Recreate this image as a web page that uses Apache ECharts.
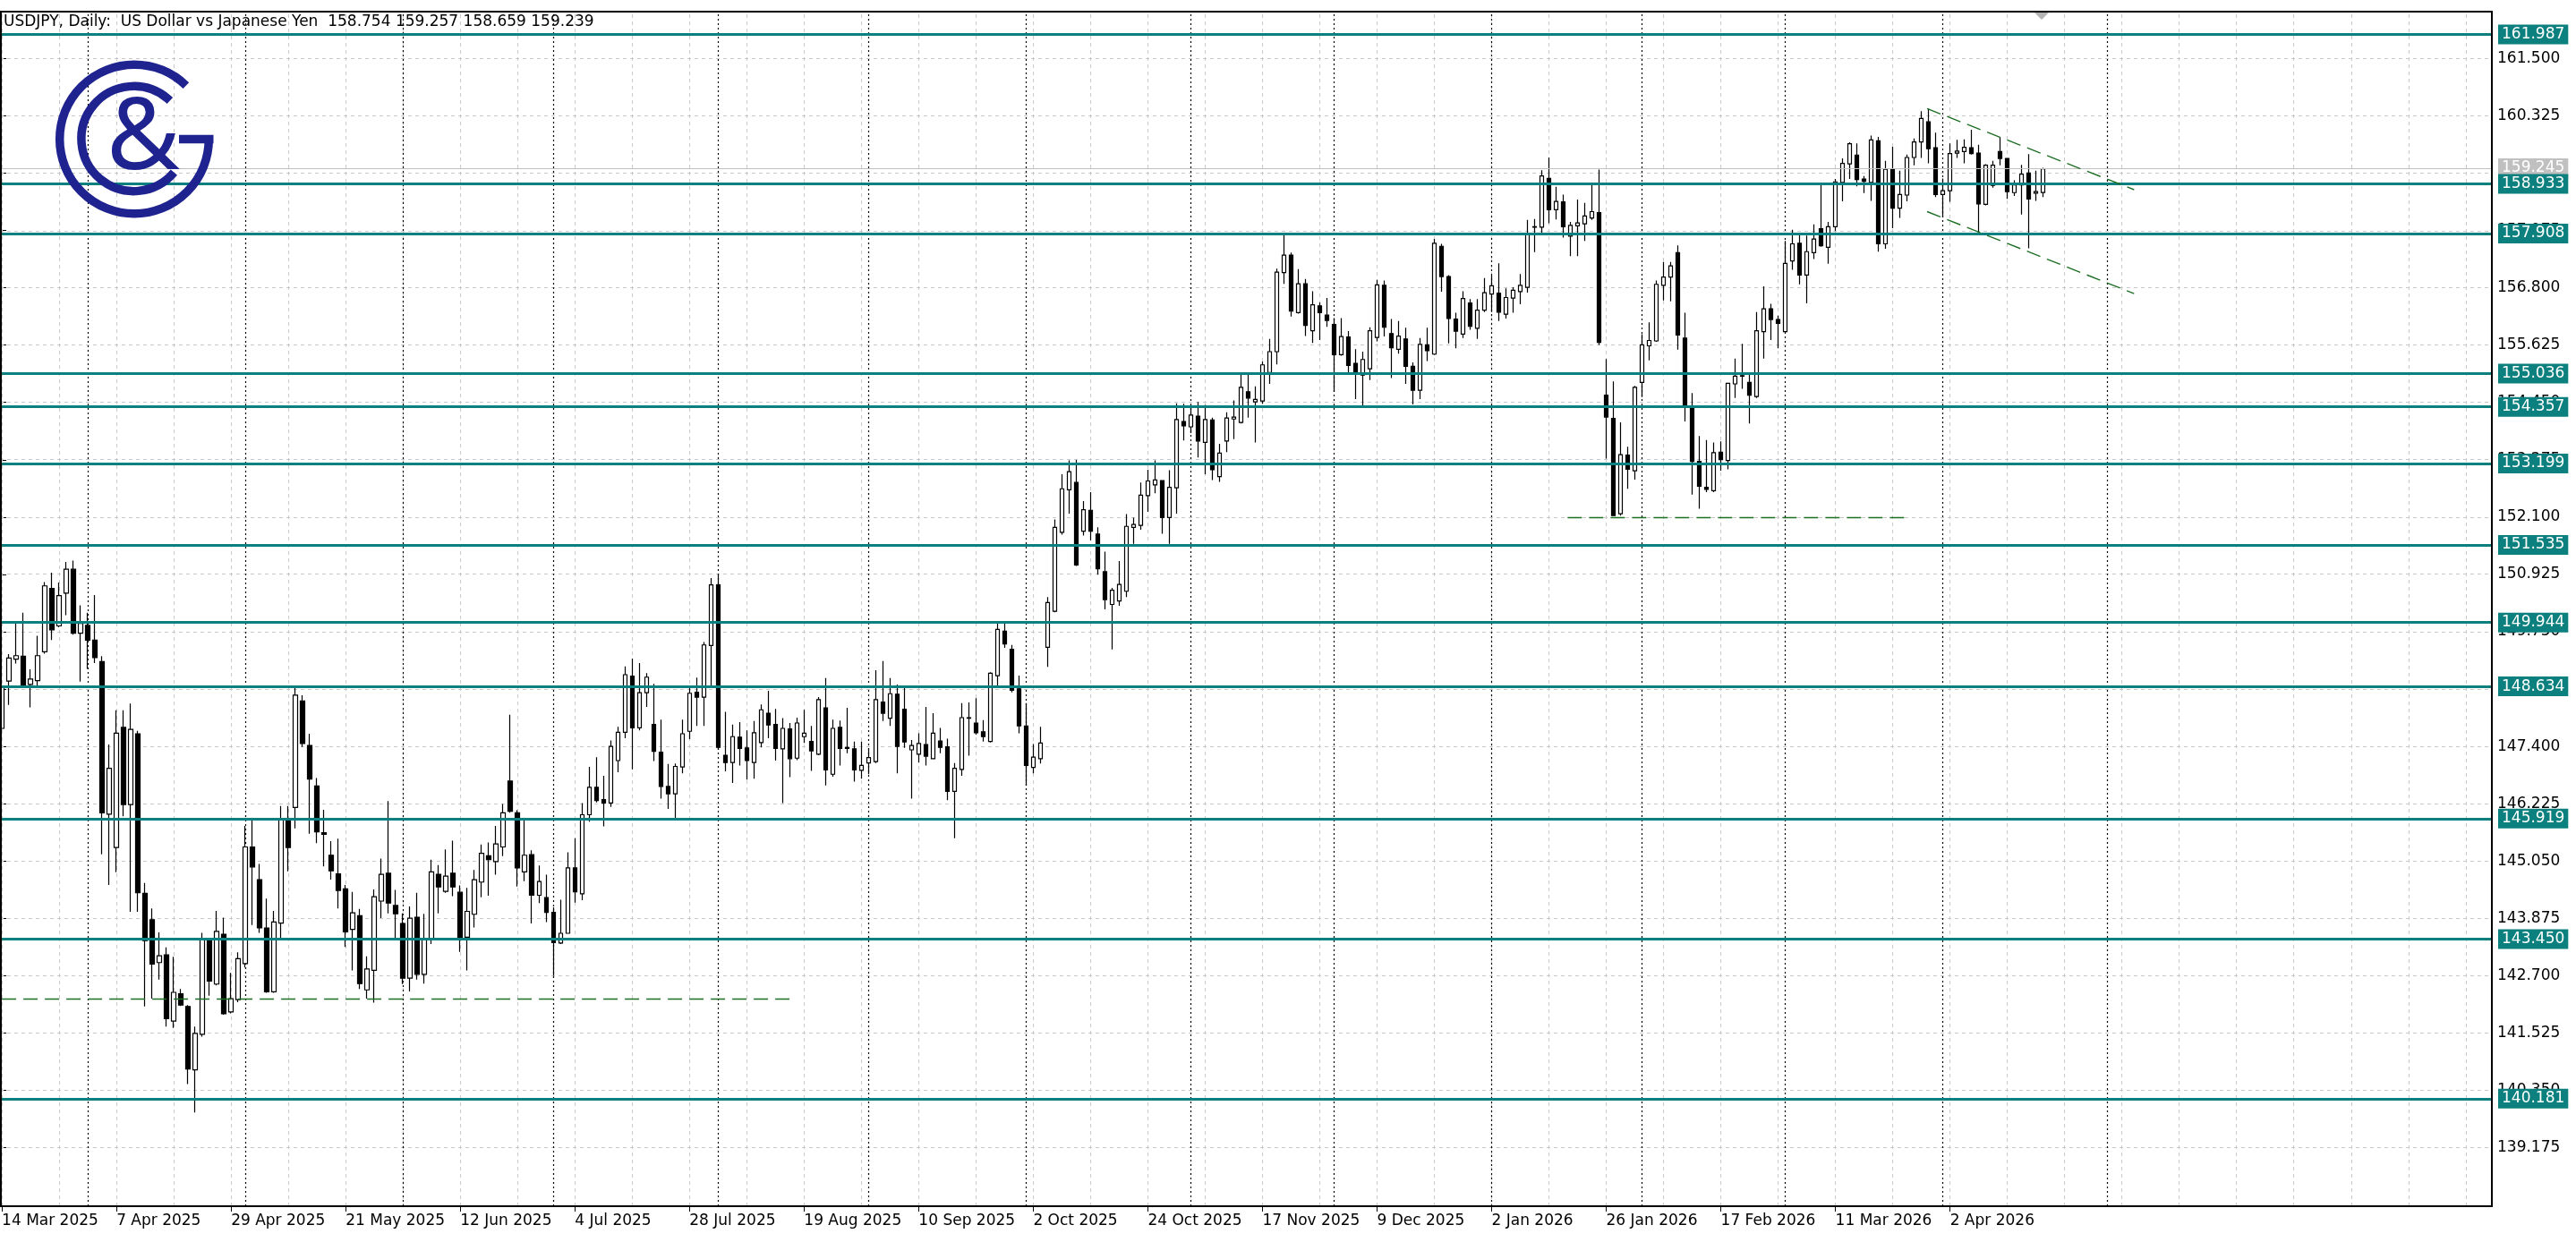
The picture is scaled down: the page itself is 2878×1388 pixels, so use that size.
<!DOCTYPE html>
<html><head><meta charset="utf-8">
<script src="https://cdn.jsdelivr.net/npm/echarts@6/dist/echarts.min.js"></script>
<style>html,body{margin:0;padding:0;background:#fff}#chart{width:2878px;height:1388px}</style>
</head><body><div id="chart"></div>
<script>
// ---- data (USDJPY daily, 14 Mar 2025 .. 21 Apr 2026) ----
const opens = [147.77,148.74,149.19,149.25,148.67,148.75,149.34,150.64,149.87,150.54,151.03,149.72,149.88,149.58,149.14,146.01,145.33,147.79,146.21,147.66,
144.39,143.85,142.97,143.13,141.77,142.33,142.07,140.77,141.50,143.44,142.53,143.55,141.96,142.21,142.95,145.34,144.67,143.68,142.37,143.78,
145.90,146.15,148.33,147.42,146.59,145.63,145.17,144.79,144.48,143.65,143.93,142.41,142.81,144.23,144.80,144.14,143.77,142.65,143.90,142.73,
143.46,144.78,144.43,144.80,144.41,143.49,143.96,144.62,145.16,145.04,145.34,146.69,146.04,144.83,145.18,144.35,144.30,144.00,143.37,143.57,
144.91,144.38,146.00,146.56,146.31,146.24,147.11,147.69,148.84,147.78,148.50,147.85,147.28,146.58,146.43,146.98,147.71,148.51,148.41,149.47,
150.71,147.22,147.07,147.59,147.37,147.07,147.48,148.08,147.85,147.35,147.76,147.16,147.60,147.50,147.24,148.19,146.83,147.79,147.38,147.35,
146.91,147.06,147.09,148.31,147.98,148.47,148.16,147.33,147.24,147.44,147.15,147.51,147.39,146.48,146.93,147.99,147.88,147.70,147.50,148.85,
149.76,149.39,148.58,147.82,146.97,147.15,149.43,150.17,151.79,152.66,152.81,151.81,152.24,151.75,150.98,150.31,150.38,150.58,151.89,151.93,
152.54,152.76,152.85,152.09,152.70,154.06,153.95,154.17,153.63,154.09,152.93,153.66,154.11,154.04,154.67,154.46,154.48,155.06,155.49,157.11,
157.47,156.29,156.88,155.92,156.43,156.24,156.05,155.43,155.79,155.25,155.01,155.14,155.78,156.85,155.86,155.54,155.75,155.19,154.70,155.63,
155.44,157.65,157.03,156.16,155.85,156.49,155.97,156.34,156.67,156.69,156.26,156.59,156.72,156.81,158.04,158.04,159.04,158.40,158.56,157.86,
158.07,158.11,158.23,158.34,154.60,154.12,152.17,153.37,153.05,154.86,155.61,155.71,156.85,157.02,157.52,155.77,154.38,153.24,152.71,152.64,
153.43,153.26,154.83,154.99,154.86,154.57,155.90,156.37,156.15,155.90,157.35,157.71,157.06,157.52,158.01,157.63,158.05,158.96,159.34,159.52,
159.03,158.96,159.81,157.70,159.24,158.43,158.70,159.47,159.79,160.20,159.67,158.71,158.79,159.56,159.59,159.67,159.56,158.51,158.90,159.59,
159.45,158.75,158.91,159.15,158.74,158.754];
const highs = [148.66,149.29,149.92,150.14,148.98,149.67,150.77,150.96,150.76,151.18,151.21,150.29,150.14,150.50,149.25,147.44,148.14,148.14,148.28,147.72,
144.60,144.08,143.59,143.28,143.09,142.43,142.10,141.66,143.58,143.45,144.03,143.89,142.76,143.18,145.77,145.92,144.99,144.28,144.03,146.18,
146.18,148.60,148.45,147.66,146.75,146.10,145.46,145.51,144.56,144.42,144.07,143.10,144.47,145.10,146.28,144.46,143.98,144.12,144.40,143.97,
145.08,144.97,145.29,145.47,144.55,144.50,144.87,145.39,145.43,145.77,146.22,148.05,146.09,145.92,145.27,144.96,144.77,144.10,144.26,145.23,
145.52,146.24,146.98,147.18,146.80,147.52,147.80,149.04,149.20,149.11,148.90,148.68,147.95,147.04,147.05,147.95,148.60,148.81,149.54,150.85,
150.93,148.11,147.85,147.90,147.73,147.92,148.26,148.54,148.17,147.98,147.88,147.99,148.15,147.82,148.41,148.80,147.95,147.93,148.19,147.50,
147.50,147.36,148.96,149.15,148.80,148.67,148.60,147.53,147.67,148.21,148.08,147.78,147.56,147.06,148.29,148.30,148.39,147.94,148.92,149.94,
149.94,149.48,148.85,148.29,147.45,147.80,150.46,152.05,152.98,153.26,153.27,152.43,152.61,151.89,151.39,150.65,151.20,152.16,152.09,152.81,
153.07,153.26,152.86,153.06,154.43,154.42,154.40,154.46,154.40,154.14,153.60,154.25,154.49,155.05,155.03,154.78,155.29,155.75,157.19,157.88,
157.52,157.18,156.98,156.73,156.50,156.59,156.18,156.18,155.91,155.54,155.49,155.99,156.96,156.95,156.16,156.12,155.98,155.27,155.77,155.98,
157.80,157.70,157.06,156.29,156.73,156.57,156.57,157.00,157.05,157.30,156.79,156.81,157.08,158.19,158.21,159.21,159.47,158.87,158.71,158.15,
158.61,158.54,158.92,159.22,155.34,154.88,154.04,153.54,154.79,155.85,156.09,156.95,157.33,157.33,157.67,156.29,154.64,153.76,153.68,153.63,
153.65,154.85,155.35,155.65,155.03,156.30,156.83,156.47,156.23,157.76,157.99,157.89,157.87,158.10,158.92,158.15,159.03,159.45,159.78,159.76,
159.09,159.92,159.89,159.40,159.69,159.20,159.53,159.86,160.42,160.47,159.98,159.04,159.76,159.83,159.84,160.04,159.73,159.33,159.40,159.89,
159.46,159.00,159.32,159.54,159.20,159.257];
const lows = [147.73,148.25,149.10,148.62,148.20,148.61,149.30,149.58,149.84,150.09,149.69,148.73,148.99,149.11,145.19,144.56,144.82,145.97,144.01,144.01,
142.07,142.23,142.62,141.66,141.63,142.08,140.48,139.90,141.45,142.29,142.50,141.90,141.93,142.16,142.87,143.74,143.58,142.35,142.35,143.45,
144.84,145.72,147.39,145.61,145.42,144.94,144.67,144.08,143.29,142.81,142.43,142.23,142.15,143.88,143.98,143.47,142.53,142.38,142.62,142.54,
143.35,143.98,144.40,144.33,143.19,142.81,143.69,144.31,144.34,144.77,145.15,146.04,144.53,144.64,143.77,144.19,143.80,142.70,143.35,143.56,
144.20,144.25,145.86,146.25,145.76,146.16,146.87,147.57,146.93,147.73,148.21,147.10,146.33,146.12,145.90,146.85,147.55,147.82,147.82,148.60,
147.33,146.89,146.65,147.01,146.72,146.74,147.38,147.57,147.11,146.24,146.77,147.12,147.47,146.90,147.22,146.60,146.78,147.01,147.26,146.68,
146.74,146.83,147.06,147.92,147.82,146.85,147.37,146.33,147.07,147.01,147.14,147.26,146.30,145.52,146.80,147.21,147.64,147.50,147.48,148.60,
149.42,148.51,147.67,146.60,146.85,147.05,149.03,150.15,151.74,152.17,151.10,151.72,151.62,150.92,150.21,149.39,150.28,150.46,151.55,151.84,
152.21,152.59,151.76,151.55,152.17,153.67,153.82,153.32,152.98,152.86,152.82,153.43,153.70,154.02,154.14,153.63,154.42,154.83,155.23,156.88,
156.21,156.27,155.81,155.67,155.73,156.00,154.67,155.41,155.07,154.52,154.38,154.91,155.70,155.80,154.95,155.45,154.83,154.41,154.52,155.30,
155.42,156.72,155.66,155.56,155.77,155.94,155.75,156.30,156.30,156.12,156.17,156.29,156.46,156.70,157.53,157.92,158.12,158.20,157.83,157.45,
157.45,157.76,158.19,155.63,153.30,152.12,152.13,152.68,152.87,154.56,155.31,155.69,156.54,156.52,155.53,154.06,152.56,152.27,152.61,152.61,
153.05,153.08,154.54,154.73,154.02,154.54,155.35,155.73,155.56,155.90,157.17,156.87,156.48,157.39,157.64,157.29,157.96,158.57,159.03,158.88,
158.74,158.58,157.54,157.60,158.02,158.23,158.57,159.31,159.46,159.35,158.66,158.24,158.56,159.46,159.35,159.53,157.92,158.49,158.85,159.31,
158.62,158.68,158.30,157.61,158.58,158.659];
const closes = [148.62,149.21,149.26,148.66,148.78,149.26,150.69,149.79,150.49,151.03,149.72,149.92,149.58,149.22,146.04,146.95,147.67,146.21,147.75,144.40,
143.42,142.94,143.11,141.82,142.36,142.10,140.79,141.52,143.44,142.59,143.61,141.92,142.23,143.05,145.34,144.93,143.68,142.37,143.80,145.90,
145.33,148.45,147.46,146.73,145.65,145.60,144.85,144.45,143.60,143.99,142.54,142.84,144.32,144.78,144.19,143.97,142.65,143.88,142.73,143.46,
144.83,144.52,144.74,144.52,143.47,144.02,144.67,145.21,145.08,145.40,146.04,146.07,144.91,145.17,144.35,144.63,144.00,143.38,143.57,144.91,
144.42,146.00,146.56,146.29,146.24,147.40,147.69,148.87,147.78,148.50,148.82,147.30,146.58,146.43,146.99,147.66,148.49,148.41,149.48,150.71,
147.38,147.07,147.60,147.36,147.11,147.68,148.15,147.84,147.36,147.77,147.15,147.88,147.67,147.31,148.36,146.92,147.77,147.36,147.36,146.92,
147.01,147.17,148.36,148.08,148.48,147.40,147.49,147.42,147.46,147.20,147.67,147.38,146.48,146.95,147.99,147.98,147.68,147.60,148.90,149.80,
149.50,148.55,147.82,147.01,147.18,147.47,150.35,151.89,152.68,153.03,151.12,152.25,151.81,151.04,150.41,150.60,150.72,151.91,151.95,152.55,
152.84,152.86,152.09,152.71,154.10,153.97,154.19,153.66,154.10,153.07,153.41,154.13,154.15,154.76,154.54,154.51,155.22,155.49,157.12,157.47,
156.32,156.88,156.03,156.45,156.29,156.13,155.43,155.80,155.21,155.07,155.33,155.92,156.86,155.99,155.57,155.81,155.19,154.70,155.64,155.51,
157.71,157.03,156.17,155.91,156.58,156.01,156.34,156.70,156.84,156.30,156.60,156.75,156.85,157.92,158.05,159.09,158.40,158.57,158.05,158.08,
158.13,158.27,158.36,155.68,154.15,152.13,153.38,153.08,154.76,155.63,155.72,156.87,157.02,157.25,155.83,154.37,153.24,152.73,152.67,153.42,
153.28,154.84,154.99,155.00,154.60,155.92,156.37,156.15,156.07,157.30,157.70,157.06,157.54,157.80,157.66,158.05,158.97,159.35,159.75,159.02,
158.98,159.83,157.70,159.23,158.43,158.71,159.47,159.79,160.27,159.65,158.71,158.79,159.55,159.60,159.68,159.55,158.52,159.31,159.31,159.45,
158.77,158.91,159.13,158.62,158.77,159.239];

const tickLabels = ['14 Mar 2025','7 Apr 2025','29 Apr 2025','21 May 2025','12 Jun 2025','4 Jul 2025','28 Jul 2025',
  '19 Aug 2025','10 Sep 2025','2 Oct 2025','24 Oct 2025','17 Nov 2025','9 Dec 2025','2 Jan 2026','26 Jan 2026',
  '17 Feb 2026','11 Mar 2026','2 Apr 2026'];
const labelStep = 16;            // bars between date labels
const gridStep = 8;              // bars between vertical grid lines
const priceTicks = [161.500,160.325,159.150,157.975,156.800,155.625,154.450,153.275,152.100,150.925,
  149.750,148.575,147.400,146.225,145.050,143.875,142.700,141.525,140.350,139.175];
const levels = [161.987,158.933,157.908,155.036,154.357,153.199,151.535,149.944,148.634,145.919,143.450,140.181];
const bidPrice = 159.245;
const monthStarts = [12,34,56,77,100,121,143,166,186,208,229,249,271,294];
const dashedLines = [ [0,142.23,110,142.23], [218.6,152.10,265.6,152.10],
  [268.8,160.47,297.7,158.81], [268.8,158.36,297.7,156.68] ];
const titleText = 'USDJPY, Daily:  US Dollar vs Japanese Yen  158.754 159.257 158.659 159.239';

// ---- presentation ----
const TEAL = '#0b807e', NAVY = '#1f2390', FONT = 'DejaVu Sans';
const X_MIN = -0.2625, X_MAX = 347.65, Y_MIN = 137.977, Y_MAX = 162.459;
const candleData = opens.map((o, i) => [i, o, closes[i], lows[i], highs[i]]);
const labelIdx = tickLabels.map((_, k) => k * labelStep);
const vGrid = []; for (let x = 0; x <= X_MAX; x += gridStep) vGrid.push(x);

const chart = echarts.init(document.getElementById('chart'), null, {renderer: 'canvas'});
const D = Math.PI / 180;
chart.setOption({
  animation: false,
  backgroundColor: '#ffffff',
  grid: {left: 0, right: 94, top: 13, bottom: 40, containLabel: false, outerBoundsMode: 'none'},
  xAxis: {
    type: 'value', min: X_MIN, max: X_MAX,
    axisLine: {show: false},
    axisTick: {show: true, customValues: labelIdx, length: 6, lineStyle: {color: '#000', width: 1}},
    axisLabel: {show: true, customValues: labelIdx, formatter: v => tickLabels[Math.round(v / labelStep)] || '',
      align: 'left', margin: 8, color: '#000', fontFamily: FONT, fontSize: 17},
    splitLine: {show: false}
  },
  yAxis: {
    type: 'value', position: 'right', min: Y_MIN, max: Y_MAX,
    axisLine: {show: false},
    axisTick: {show: true, customValues: priceTicks, length: 5, lineStyle: {color: '#000', width: 1}},
    axisLabel: {show: true, customValues: priceTicks, formatter: v => v.toFixed(3), margin: 6,
      color: '#000', fontFamily: FONT, fontSize: 17},
    splitLine: {show: false}
  },
  graphic: [
    {type: 'rect', silent: true, z: 100, shape: {x: 1, y: 13, width: 2783, height: 1335},
      style: {fill: null, stroke: '#000', lineWidth: 2}},
    {type: 'text', silent: true, z: 100, x: 4, y: 16,
      style: {text: titleText, fill: '#000', fontFamily: FONT, fontSize: 17, verticalAlign: 'top'}},
    {type: 'polygon', silent: true, z: 100, shape: {points: [[2273, 14], [2289, 14], [2281, 22]]}, style: {fill: '#b4b4b4'}},
    {type: 'arc', silent: true, z: 101, shape: {cx: 150, cy: 155.5, r: 83.3, startAngle: 0, endAngle: 314 * D, clockwise: true},
      style: {stroke: NAVY, lineWidth: 9.5, fill: null}},
    {type: 'rect', silent: true, z: 101, shape: {x: 200, y: 150.8, width: 38.5, height: 9.4}, style: {fill: NAVY}},
    {type: 'arc', silent: true, z: 101, shape: {cx: 149.5, cy: 155, r: 58.6, startAngle: 40 * D, endAngle: 313.5 * D, clockwise: true},
      style: {stroke: NAVY, lineWidth: 9.5, fill: null}},
    {type: 'text', silent: true, z: 101, x: 160, y: 157,
      style: {text: '&', fill: NAVY, fontFamily: 'Noto Sans', fontSize: 112, align: 'center', verticalAlign: 'middle'}}
  ],
  series: [
    { // grid and period separators
      type: 'line', data: [], silent: true,
      markLine: {silent: true, animation: false, z: 1, symbol: ['none', 'none'], label: {show: false},
        emphasis: {disabled: true},
        data: [].concat(
          priceTicks.map(v => ({yAxis: v, lineStyle: {color: '#c8c8c8', type: [4, 4], width: 1}})),
          vGrid.map(x => ({xAxis: x, lineStyle: {color: '#c8c8c8', type: [4, 4], width: 1}})),
          monthStarts.map(x => ({xAxis: x, lineStyle: {color: '#000', type: [2, 3], width: 1.2}}))
        )}
    },
    {
      type: 'candlestick', name: 'USDJPY', z: 3, barWidth: 5, data: candleData,
      itemStyle: {color: '#ffffff', color0: '#000000', borderColor: '#000000', borderColor0: '#000000', borderWidth: 1.2}
    },
    { // bid line
      type: 'line', data: [], silent: true,
      markLine: {silent: true, animation: false, z: 6, symbol: ['none', 'none'], emphasis: {disabled: true},
        data: [{yAxis: bidPrice, lineStyle: {color: '#c0c0c0', type: 'solid', width: 1.2},
          label: {show: true, position: 'end', distance: 7, formatter: bidPrice.toFixed(3), color: '#fff',
            backgroundColor: '#c0c0c0', padding: [3, 4, 2, 4], fontFamily: FONT, fontSize: 17}}]}
    },
    { // horizontal levels
      type: 'line', data: [], silent: true,
      markLine: {silent: true, animation: false, z: 7, symbol: ['none', 'none'], emphasis: {disabled: true},
        data: levels.map(v => ({yAxis: v, lineStyle: {color: TEAL, type: 'solid', width: 3},
          label: {show: true, position: 'end', distance: 7, formatter: v.toFixed(3), color: '#fff',
            backgroundColor: TEAL, padding: [3, 4, 2, 4], fontFamily: FONT, fontSize: 17}}))}
    },
    { // dashed trend lines
      type: 'line', data: [], silent: true,
      markLine: {silent: true, animation: false, z: 8, symbol: ['none', 'none'], label: {show: false}, emphasis: {disabled: true},
        data: dashedLines.map(s => [{coord: [s[0], s[1]], lineStyle: {color: '#1f6e25', type: [16, 8], width: 1.4}},
          {coord: [s[2], s[3]]}])}
    }
  ]
});
</script></body></html>
